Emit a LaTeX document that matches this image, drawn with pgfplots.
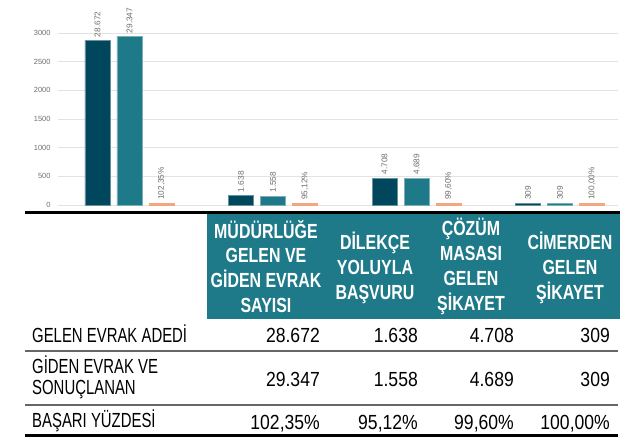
\documentclass[border=0pt]{standalone}
\usepackage{fontspec}
\usepackage{pgfplots}
\pgfplotsset{compat=1.18}
\setmainfont{Liberation Sans}
\newfontfamily\chartfont{Liberation Sans}
\newfontfamily\tblfont{Liberation Sans}[FakeStretch=0.73]
\newfontfamily\numfont{Liberation Sans}[FakeStretch=0.86]
\newfontfamily\hdrfont{Liberation Sans Bold}[FakeStretch=0.78]
\definecolor{cDark}{RGB}{0,71,94}
\definecolor{cTeal}{RGB}{30,122,137}
\definecolor{cOrange}{RGB}{244,167,124}
\definecolor{cLab}{RGB}{110,110,110}
\begin{document}
\begin{tikzpicture}
\useasboundingbox (0bp,0bp) rectangle (623bp,437bp);
\begin{axis}[
  at={(58bp,232bp)}, anchor=south west,
  scale only axis, width=560bp, height=172bp,
  xmin=-0.498, xmax=3.404, ymin=0, ymax=3000,
  ytick={0,500,...,3000}, xtick=\empty,
  ymajorgrids, grid style={gray!22, line width=0.9bp},
  axis line style={draw=none}, major tick length=0pt,
  yticklabel style={font=\chartfont\fontsize{7.5}{9}\selectfont, text=cLab, anchor=east, xshift=-4bp},
  /pgf/number format/.cd, 1000 sep={}, assume math mode=true,
  /pgfplots/.cd,
  scaled y ticks=false, clip=false,
  point meta=explicit symbolic,
  nodes near coords,
]
\addplot[ybar, bar width=0.174, bar shift=-0.223, fill=cDark, draw=cDark!60!white, line width=0.5bp,
  every node near coord/.style={xshift=-32bp, rotate=90, anchor=west, font=\chartfont\fontsize{8.3}{9}\selectfont, text=cLab}]
  coordinates {(0,2867.2) [28.672] (1,163.8) [1.638] (2,470.8) [4.708] (3,30.9) [309]};
\addplot[ybar, bar width=0.174, bar shift=0, fill=cTeal, draw=cTeal!60!white, line width=0.5bp,
  every node near coord/.style={rotate=90, anchor=west, font=\chartfont\fontsize{8.3}{9}\selectfont, text=cLab}]
  coordinates {(0,2934.7) [29.347] (1,155.8) [1.558] (2,468.9) [4.689] (3,30.9) [309]};
\addplot[ybar, bar width=0.174, bar shift=0.223, fill=cOrange, draw=cOrange, line width=0.5bp,
  every node near coord/.style={xshift=32bp, rotate=90, anchor=west, font=\chartfont\fontsize{8.3}{9}\selectfont, text=cLab}]
  coordinates {(0,30) [102{,}35\%] (1,30) [95{,}12\%] (2,30) [99{,}60\%] (3,30) [100{,}00\%]};
\end{axis}
\begin{scope}[x=1bp,y=1bp]
\fill[black] (25,223) rectangle (620,226);
\fill[cTeal] (207,118) rectangle (620,223);
\fill[gray!80!black] (25,85.4) rectangle (618,86.7);
\fill[gray!80!black] (25,31.4) rectangle (618,32.7);
\fill[black] (25,0) rectangle (618,3);
\begin{scope}[every node/.style={text=white, align=center, inner sep=0pt, font=\hdrfont\fontsize{20.5}{25}\selectfont}]
\node at (266,170.5) {MÜDÜRLÜĞE\\GELEN VE\\GİDEN EVRAK\\SAYISI};
\node at (375,169) {DİLEKÇE\\YOLUYLA\\BAŞVURU};
\node at (471,170.5) {ÇÖZÜM\\MASASI\\GELEN\\ŞİKAYET};
\node at (570,169) {CİMERDEN\\GELEN\\ŞİKAYET};
\end{scope}
\begin{scope}[every node/.style={inner sep=0pt, text=black}]
\node[anchor=base west, font=\tblfont\fontsize{20.5}{21}\selectfont] at (32,95) {GELEN EVRAK ADEDİ};
\node[anchor=base west, font=\tblfont\fontsize{20.5}{21}\selectfont, align=left] at (32,43) {GİDEN EVRAK VE\\SONUÇLANAN};
\node[anchor=base west, font=\tblfont\fontsize{20.5}{21}\selectfont] at (32,10) {BAŞARI YÜZDESİ};
\foreach \xr/\a/\b/\c in {320/28.672/29.347/102{,}35\%, 418/1.638/1.558/95{,}12\%, 514/4.708/4.689/99{,}60\%, 610/309/309/100{,}00\%}{
  \node[anchor=base east, font=\numfont\fontsize{20.5}{21}\selectfont] at (\xr,95) {\a};
  \node[anchor=base east, font=\numfont\fontsize{20.5}{21}\selectfont] at (\xr,51) {\b};
  \node[anchor=base east, font=\numfont\fontsize{20.5}{21}\selectfont] at (\xr,8) {\c};
}
\end{scope}
\end{scope}
\end{tikzpicture}
\end{document}
